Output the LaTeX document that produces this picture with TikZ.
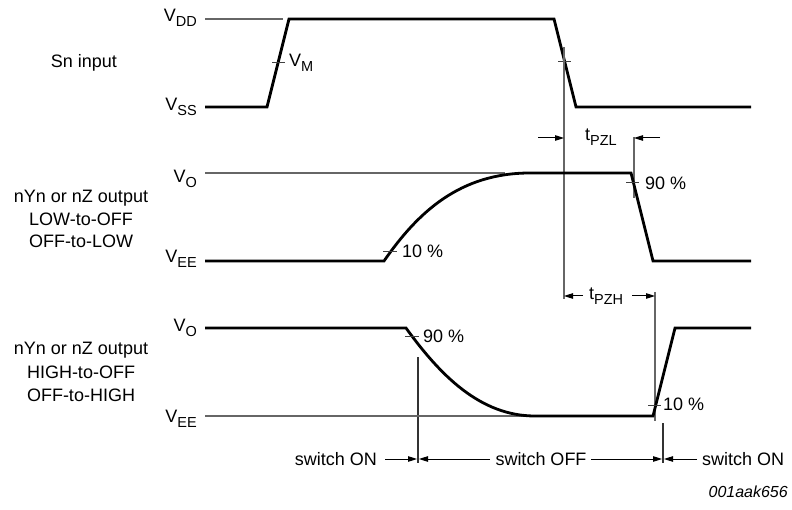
\documentclass[tikz,border=0pt]{standalone}
\usepackage{fontspec}
\setmainfont{Liberation Sans}
\usetikzlibrary{arrows.meta}
\newcommand{\sbs}[1]{\raisebox{-5pt}{\fontsize{14.5}{15}\selectfont #1}}
\begin{document}
\begin{tikzpicture}[x=1pt,y=-1pt,
  wave/.style={line width=2.8pt, line join=miter},
  ref/.style={line width=1.1pt, draw=black!60},
  guide/.style={line width=1.1pt, draw=black!60},
  guidek/.style={line width=1.1pt, draw=black!80},
  tick/.style={line width=1pt, draw=black!75},
  lbl/.style={font=\fontsize{18}{21}\selectfont, inner sep=0pt},
  dim/.style={line width=1pt, -{Triangle[length=9pt,width=5.5pt]}},
]
\useasboundingbox (0,0) rectangle (792,510);

% ---------- Sn input ----------
\coordinate (vddL) at (205,19); \coordinate (vddR) at (283,19);
\draw[ref] (vddL) -- (vddR);
\draw[wave] (205,107) -- (267,107) -- (289,19) -- (554,19) -- (576,107) -- (751,107);
\draw[tick] (272,63) -- (285,63);
\draw[tick] (558,62) -- (571,62);
\node[lbl, anchor=base] (sn) at (84,68) {Sn input};
\node[lbl, anchor=base east] (vdd) at (197,22) {V\sbs{DD}};
\node[lbl, anchor=base east] (vss) at (197,111) {V\sbs{SS}};
\node[lbl, anchor=base west] (vm) at (289,67) {V\sbs{M}};

% ---------- guides ----------
\draw[guide] (564,47) -- (564,299);
\draw[guide] (634,137) -- (634,198);
\draw[guide] (655,292) -- (655,421);
\draw[guidek] (418,357) -- (418,463);
\draw[guidek] (663,423) -- (663,463);

% ---------- middle output ----------
\draw[ref] (205,173) -- (505,173);
\draw[wave] (205,261) -- (384,261) .. controls (418,212) and (460,173) .. (530,173) -- (631,173) -- (653,261) -- (751,261);
\draw[tick] (383,252) -- (397,252);
\draw[tick] (626,183) -- (639,183);
\node[lbl, anchor=base east] (vo1) at (197,183) {V\sbs{O}};
\node[lbl, anchor=base east] (vee1) at (197,263) {V\sbs{EE}};
\node[lbl, anchor=base west] (p10a) at (402,258) {10 \%};
\node[lbl, anchor=base west] (p90a) at (645,190) {90 \%};
\node[lbl, anchor=base] (m1) at (81,203) {nYn or nZ output};
\node[lbl, anchor=base] (m2) at (81,226) {LOW-to-OFF};
\node[lbl, anchor=base] (m3) at (81,248) {OFF-to-LOW};

% tPZL
\node[lbl, anchor=base west] (tpzl) at (585,141) {t\sbs{PZL}};
\coordinate (pzlA) at (538,138); \coordinate (pzlB) at (564,138);
\coordinate (pzlC) at (660,138); \coordinate (pzlD) at (634,138);
\draw[dim] (pzlA) -- (pzlB);
\draw[dim] (pzlC) -- (pzlD);

% tPZH
\node[lbl, anchor=base west] (tpzh) at (589,300) {t\sbs{PZH}};
\coordinate (pzhA) at (583,296); \coordinate (pzhB) at (564,296);
\coordinate (pzhC) at (632,296); \coordinate (pzhD) at (655,296);
\draw[dim] (pzhA) -- (pzhB);
\draw[dim] (pzhC) -- (pzhD);

% ---------- bottom output ----------
\draw[ref] (205,416) -- (527,416);
\draw[wave] (205,328) -- (406,328) .. controls (440,375) and (480,416) .. (535,416) -- (653,416) -- (675,328) -- (751,328);
\draw[tick] (405,337) -- (419,337);
\draw[tick] (648,405) -- (661,405);
\node[lbl, anchor=base east] (vo2) at (197,332) {V\sbs{O}};
\node[lbl, anchor=base east] (vee2) at (197,422) {V\sbs{EE}};
\node[lbl, anchor=base west] (p90b) at (423,343) {90 \%};
\node[lbl, anchor=base west] (p10b) at (663,410) {10 \%};
\node[lbl, anchor=base] (b1) at (81,355) {nYn or nZ output};
\node[lbl, anchor=base] (b2) at (81,378) {HIGH-to-OFF};
\node[lbl, anchor=base] (b3) at (81,401) {OFF-to-HIGH};

% ---------- switch arrows ----------
\node[lbl, anchor=base east] (son1) at (377,465) {switch ON};
\node[lbl, anchor=base] (soff) at (541,465) {switch OFF};
\node[lbl, anchor=base west] (son2) at (702,465) {switch ON};
\coordinate (s1a) at (385,459); \coordinate (s1b) at (417,459);
\coordinate (s2a) at (490,459); \coordinate (s2b) at (419,459);
\coordinate (s3a) at (591,459); \coordinate (s3b) at (662,459);
\coordinate (s4a) at (697,459); \coordinate (s4b) at (664,459);
\draw[dim] (s1a) -- (s1b);
\draw[dim] (s2a) -- (s2b);
\draw[dim] (s3a) -- (s3b);
\draw[dim] (s4a) -- (s4b);

\node[font=\fontsize{16}{18}\selectfont\itshape, inner sep=0pt, anchor=base east] (code) at (788,497) {001aak656};
\end{tikzpicture}
\end{document}
